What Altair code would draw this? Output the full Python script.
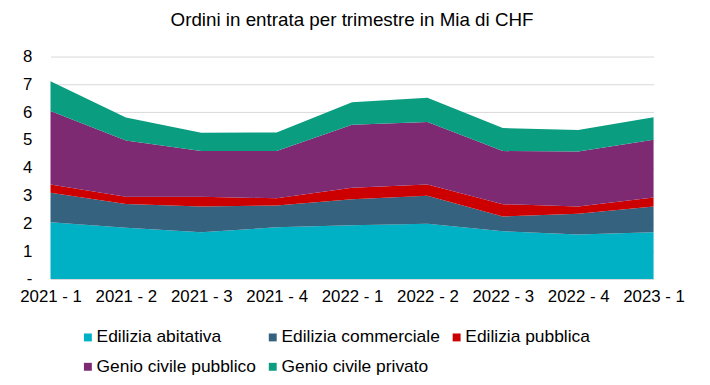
import altair as alt
import pandas as pd

quarters = ["2021 - 1", "2021 - 2", "2021 - 3", "2021 - 4", "2022 - 1",
            "2022 - 2", "2022 - 3", "2022 - 4", "2023 - 1"]
series = ["Edilizia abitativa", "Edilizia commerciale", "Edilizia pubblica",
          "Genio civile pubblico", "Genio civile privato"]
abitativa = [2.04, 1.84, 1.68, 1.86, 1.93, 1.99, 1.72, 1.60, 1.68]
commerciale = [1.06, 0.86, 0.93, 0.78, 0.94, 1.00, 0.53, 0.75, 0.93]
pubblica = [0.30, 0.26, 0.35, 0.26, 0.41, 0.41, 0.44, 0.26, 0.32]
genio_pubblico = [2.64, 2.02, 1.64, 1.70, 2.27, 2.25, 1.91, 1.98, 2.08]
genio_privato = [1.07, 0.83, 0.66, 0.67, 0.81, 0.87, 0.83, 0.77, 0.81]
colors = ["#00B0C4", "#35637F", "#CC0000", "#7D2A72", "#0A9D80"]

values = [abitativa, commerciale, pubblica, genio_pubblico, genio_privato]
rows = []
for si, (name, vals) in enumerate(zip(series, values)):
    for q, v in zip(quarters, vals):
        rows.append({"Trimestre": q, "Serie": name, "Valore": v, "idx": si})
df = pd.DataFrame(rows)

FONT = "Liberation Sans"

chart = alt.Chart(df).mark_area(opacity=1).encode(
    x=alt.X("Trimestre:O", sort=quarters,
            scale=alt.Scale(type="point", padding=0),
            axis=alt.Axis(title=None, labelAngle=0, domain=False, ticks=False,
                          labelPadding=10, labelFontSize=17, labelFont=FONT,
                          labelColor="#000000", grid=False)),
    y=alt.Y("Valore:Q", stack="zero",
            scale=alt.Scale(domain=[0, 8], nice=False),
            axis=alt.Axis(title=None, values=list(range(0, 9)), domain=False,
                          ticks=False, labelPadding=19, labelFontSize=17,
                          labelFont=FONT, labelColor="#000000",
                          gridColor="#D9D9D9", gridWidth=1,
                          labelExpr="datum.value == 0 ? '-' : datum.label")),
    color=alt.Color("Serie:N", sort=series,
                    scale=alt.Scale(domain=series, range=colors),
                    legend=alt.Legend(title=None, orient="none", legendX=29,
                                      legendY=275, columns=3, direction="horizontal",
                                      symbolType="square", labelLimit=0,
                                      symbolSize=64, labelFontSize=17.6,
                                      labelFont=FONT, labelColor="#000000",
                                      columnPadding=8, rowPadding=11,
                                      symbolStrokeWidth=0, labelOffset=0)),
    order=alt.Order("idx:Q", sort="ascending"),
).properties(
    width=610, height=225,
    title=alt.TitleParams("Ordini in entrata per trimestre in Mia di CHF",
                          fontSize=19, font=FONT, fontWeight="normal",
                          color="#000000", anchor="middle", offset=18),
    autosize=alt.AutoSizeParams(type="none"),
    padding={"left": 43, "top": 47, "right": 49, "bottom": 97},
).configure_view(stroke=None)

chart.save("out.html", embed_options={"renderer": "svg", "actions": False})
